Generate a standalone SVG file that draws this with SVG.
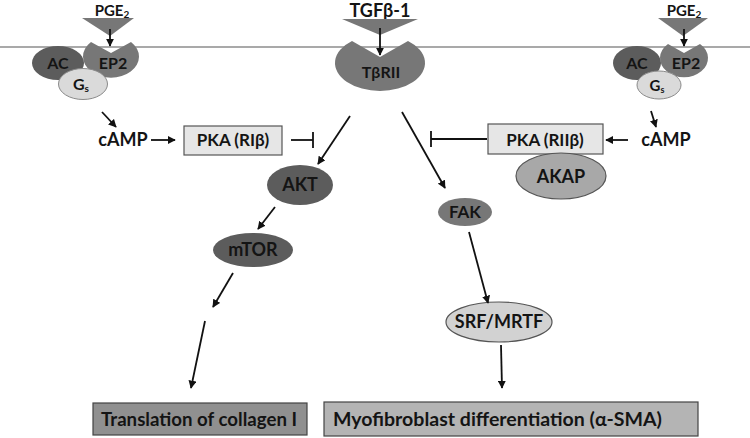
<svg xmlns="http://www.w3.org/2000/svg" width="750" height="438" viewBox="0 0 750 438">
<defs>
<marker id="ah" viewBox="0 0 10 10" refX="9" refY="5" markerWidth="4.5" markerHeight="4.5" orient="auto" markerUnits="strokeWidth">
<path d="M0,0 L10,5 L0,10 Z" fill="#111"/>
</marker>
<style>
text{font-family:Lato,"Open Sans","Liberation Sans",sans-serif;font-weight:bold;fill:#141414;text-anchor:middle}
.dark{fill:#5c5c5c}
.mid{fill:#777777}
.light{fill:#dadada;stroke:#8a8a8a;stroke-width:1}
.edge{stroke:#111;stroke-width:1.8;fill:none}
.arr{marker-end:url(#ah)}
.box{fill:#e6e6e6;stroke:#555;stroke-width:1.2}
</style>
</defs>
<rect width="750" height="438" fill="#fff"/>
<line x1="0" y1="47" x2="750" y2="47" stroke="#8c8c8c" stroke-width="1.5"/>

<g id="left-receptor">
<text x="112" y="15.5" font-size="15">PGE<tspan font-size="10" dy="2">2</tspan></text>
<polygon class="mid" points="82,18 134,18 110,36"/>
<ellipse class="dark" cx="58" cy="63" rx="26" ry="17"/>
<path class="mid" d="M91,42 A28,21 0 1 0 131,42 L111,53 Z"/>
<ellipse class="light" cx="83" cy="84" rx="24.5" ry="15.5"/>
<text x="58" y="69" font-size="16">AC</text>
<text x="113" y="69" font-size="16">EP2</text>
<text x="81" y="90" font-size="16">G<tspan font-size="10" dy="2">s</tspan></text>
</g>

<g id="tgf-receptor">
<text x="380" y="17" font-size="18">TGFβ-1</text>
<polygon class="mid" points="342,19 418,19 380,35"/>
<path class="mid" d="M352,41 A45,28 0 1 0 408,41 L380,57 Z"/>
<text x="381" y="78" font-size="16">TβRII</text>
</g>

<g id="right-receptor">
<text x="684" y="15.5" font-size="15">PGE<tspan font-size="10" dy="2">2</tspan></text>
<polygon class="mid" points="658,18 708,18 683,36"/>
<ellipse class="dark" cx="637" cy="63" rx="24" ry="17"/>
<path class="mid" d="M668,44 A24,19 0 1 0 700,44 L684,53 Z"/>
<ellipse class="light" cx="659" cy="85" rx="22" ry="14"/>
<text x="637" y="69" font-size="16">AC</text>
<text x="686" y="69" font-size="16">EP2</text>
<text x="657" y="91" font-size="15">G<tspan font-size="9" dy="2">s</tspan></text>
</g>

<g id="camp-left"><text x="123" y="146" font-size="18">cAMP</text></g>
<g id="pka-ri">
<rect class="box" x="184" y="126" width="98" height="29"/>
<text x="233" y="146" font-size="17">PKA (RIβ)</text>
</g>
<g id="akt">
<ellipse class="dark" cx="300" cy="185" rx="33" ry="20"/>
<text x="300" y="191" font-size="18">AKT</text>
</g>
<g id="mtor">
<ellipse class="dark" cx="253" cy="250" rx="40" ry="17"/>
<text x="253" y="256" font-size="18">mTOR</text>
</g>
<g id="fak">
<ellipse class="mid" cx="465" cy="212" rx="27" ry="14"/>
<text x="465" y="218" font-size="17">FAK</text>
</g>
<g id="srf">
<ellipse cx="499" cy="322" rx="53" ry="20" fill="#d2d2d2" stroke="#555" stroke-width="1.2"/>
<text x="499" y="328" font-size="18">SRF/MRTF</text>
</g>
<g id="pka-rii">
<rect class="box" x="488" y="124" width="115" height="30"/>
<text x="545" y="146" font-size="17">PKA (RIIβ)</text>
</g>
<g id="akap">
<ellipse cx="561" cy="176" rx="45" ry="23" fill="#a8a8a8" stroke="#555" stroke-width="1.2"/>
<text x="561" y="183" font-size="18">AKAP</text>
</g>
<g id="camp-right"><text x="666" y="146" font-size="18">cAMP</text></g>
<g id="translation">
<rect x="93" y="403" width="214" height="32" fill="#909090" stroke="#444" stroke-width="1.2"/>
<text x="199" y="426" font-size="18" textLength="196" lengthAdjust="spacingAndGlyphs">Translation of collagen I</text>
</g>
<g id="myofibroblast">
<rect x="324" y="402" width="374" height="34" fill="#b4b4b4" stroke="#444" stroke-width="1.2"/>
<text x="333" y="426" font-size="18" style="text-anchor:start" textLength="329" lengthAdjust="spacingAndGlyphs">Myofibroblast  differentiation (α-SMA)</text>
</g>

<g id="connectors">
<line class="edge arr" x1="110" y1="29" x2="110" y2="46"/>
<line class="edge arr" x1="380" y1="28" x2="380" y2="55"/>
<line class="edge arr" x1="684" y1="29" x2="684" y2="46"/>
<line class="edge arr" x1="102" y1="112" x2="116" y2="127"/>
<line class="edge arr" x1="151" y1="140" x2="175" y2="140"/>
<line class="edge" x1="291" y1="140" x2="313" y2="140"/>
<line class="edge" x1="313" y1="132" x2="313" y2="148"/>
<line class="edge arr" x1="350" y1="116" x2="318" y2="164"/>
<line class="edge arr" x1="275" y1="207" x2="258" y2="229"/>
<line class="edge arr" x1="233" y1="273" x2="213" y2="307"/>
<line class="edge arr" x1="205" y1="321" x2="191" y2="388"/>
<line class="edge arr" x1="402" y1="112" x2="445" y2="188"/>
<line class="edge arr" x1="469" y1="232" x2="488" y2="303"/>
<line class="edge arr" x1="501" y1="345" x2="502" y2="388"/>
<line class="edge" x1="487" y1="139" x2="431" y2="139"/>
<line class="edge" x1="431" y1="131" x2="431" y2="147"/>
<line class="edge arr" x1="628" y1="140" x2="606" y2="140"/>
<line class="edge arr" x1="651" y1="111" x2="656" y2="127"/>
</g>
</svg>
